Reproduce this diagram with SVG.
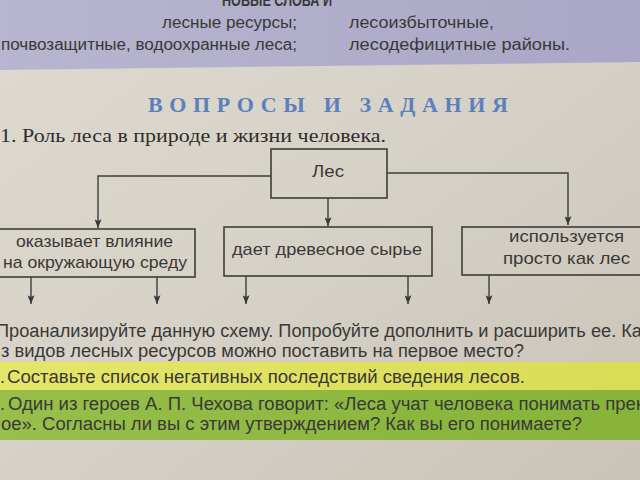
<svg xmlns="http://www.w3.org/2000/svg" width="640" height="480" viewBox="0 0 640 480">
  <defs>
    <linearGradient id="paper" x1="0" y1="0" x2="1" y2="1">
      <stop offset="0" stop-color="#dedad0"/>
      <stop offset="0.5" stop-color="#d6d1c6"/>
      <stop offset="1" stop-color="#c9c3b8"/>
    </linearGradient>
    <linearGradient id="band" x1="0" y1="0" x2="1" y2="0">
      <stop offset="0" stop-color="#b7b5cf"/>
      <stop offset="1" stop-color="#aaa7c6"/>
    </linearGradient>
    <linearGradient id="yellow" x1="0" y1="0" x2="1" y2="0">
      <stop offset="0" stop-color="#e4e668"/>
      <stop offset="1" stop-color="#d9dc55"/>
    </linearGradient>
    <linearGradient id="green" x1="0" y1="0" x2="1" y2="0">
      <stop offset="0" stop-color="#97bf4a"/>
      <stop offset="1" stop-color="#86b338"/>
    </linearGradient>
    <marker id="arrd" viewBox="0 0 8 10" refX="4" refY="10" markerWidth="7" markerHeight="10" markerUnits="userSpaceOnUse" orient="0">
      <path d="M0,0 L4,10 L8,0 L4,2 Z" fill="#3a3a3a"/>
    </marker>
  </defs>
  <style>
    .sans { font-family: "Liberation Sans", Arial, sans-serif; fill: #3a3838; }
    .serif { font-family: "Liberation Serif", "Times New Roman", serif; fill: #2f2d2d; }
    .box { fill: none; stroke: #3d3d3d; stroke-width: 1.6; }
    .conn { fill: none; stroke: #3d3d3d; stroke-width: 1.4; }
    .lbl { font-size: 17px; }
    .body { font-size: 18px; }
  </style>

  <!-- backgrounds -->
  <rect x="0" y="0" width="640" height="480" fill="url(#paper)"/>
  <polygon points="0,0 640,0 640,62 0,70" fill="url(#band)"/>
  <rect x="0" y="362" width="640" height="28" fill="url(#yellow)"/>
  <rect x="0" y="390" width="640" height="50" fill="url(#green)"/>

  <!-- top band text -->
  <text class="sans" x="222" y="6" font-size="17" font-weight="bold" textLength="110" lengthAdjust="spacingAndGlyphs">НОВЫЕ СЛОВА И</text>
  <text class="sans" x="162" y="28" font-size="16" textLength="135" lengthAdjust="spacingAndGlyphs">лесные ресурсы;</text>
  <text class="sans" x="1" y="50" font-size="16" textLength="296" lengthAdjust="spacingAndGlyphs">почвозащитные, водоохранные леса;</text>
  <text class="sans" x="349" y="28" font-size="16" textLength="145" lengthAdjust="spacingAndGlyphs">лесоизбыточные,</text>
  <text class="sans" x="349" y="50" font-size="16" textLength="221" lengthAdjust="spacingAndGlyphs">лесодефицитные районы.</text>

  <!-- heading -->
  <text class="serif" x="148" y="112" font-size="22" font-weight="bold" style="fill:#5b80bb" textLength="360" lengthAdjust="spacing">ВОПРОСЫ И ЗАДАНИЯ</text>
  <text class="serif" x="0" y="142" font-size="18.5" textLength="386" lengthAdjust="spacingAndGlyphs">1. Роль леса в природе и жизни человека.</text>

  <!-- connectors -->
  <g id="connectors">
    <path class="conn" d="M271,176 H98 V228" marker-end="url(#arrd)"/>
    <path class="conn" d="M328,198 V226" marker-end="url(#arrd)"/>
    <path class="conn" d="M387,173 H568 V225" marker-end="url(#arrd)"/>
    <path class="conn" d="M31,277 V304" marker-end="url(#arrd)"/>
    <path class="conn" d="M157,277 V304" marker-end="url(#arrd)"/>
    <path class="conn" d="M246,276 V304" marker-end="url(#arrd)"/>
    <path class="conn" d="M408,276 V304" marker-end="url(#arrd)"/>
    <path class="conn" d="M489,275 V304" marker-end="url(#arrd)"/>
  </g>

  <!-- nodes -->
  <g id="node-les">
    <rect class="box" x="271" y="149" width="116" height="49"/>
    <text class="sans lbl" x="312" y="177" textLength="32" lengthAdjust="spacingAndGlyphs">Лес</text>
  </g>
  <g id="node-vliyanie">
    <rect class="box" x="-2" y="229" width="197" height="48"/>
    <text class="sans lbl" x="16" y="247" textLength="157" lengthAdjust="spacingAndGlyphs">оказывает влияние</text>
    <text class="sans lbl" x="3" y="268" textLength="184" lengthAdjust="spacingAndGlyphs">на окружающую среду</text>
  </g>
  <g id="node-syrye">
    <rect class="box" x="224" y="227" width="208" height="49"/>
    <text class="sans lbl" x="232" y="255" textLength="190" lengthAdjust="spacingAndGlyphs">дает древесное сырье</text>
  </g>
  <g id="node-prosto">
    <rect class="box" x="462" y="227" width="190" height="48"/>
    <text class="sans lbl" x="509" y="242" textLength="115" lengthAdjust="spacingAndGlyphs">используется</text>
    <text class="sans lbl" x="503" y="264" textLength="127" lengthAdjust="spacingAndGlyphs">просто как лес</text>
  </g>

  <!-- body text -->
  <text class="sans body" x="-4" y="337" textLength="646" lengthAdjust="spacingAndGlyphs">Проанализируйте данную схему. Попробуйте дополнить и расширить ее. Ка</text>
  <text class="sans body" x="1" y="357" textLength="523" lengthAdjust="spacingAndGlyphs">з видов лесных ресурсов можно поставить на первое место?</text>
  <text class="sans body" x="0" y="383">.</text>
  <text class="sans body" x="7" y="383" textLength="518" lengthAdjust="spacingAndGlyphs">Составьте список негативных последствий сведения лесов.</text>
  <text class="sans body" x="0" y="410">.</text>
  <text class="sans body" x="8" y="410" textLength="636" lengthAdjust="spacingAndGlyphs">Один из героев А. П. Чехова говорит: «Леса учат человека понимать прек</text>
  <text class="sans body" x="1" y="430" textLength="581" lengthAdjust="spacingAndGlyphs">ое». Согласны ли вы с этим утверждением? Как вы его понимаете?</text>
</svg>
